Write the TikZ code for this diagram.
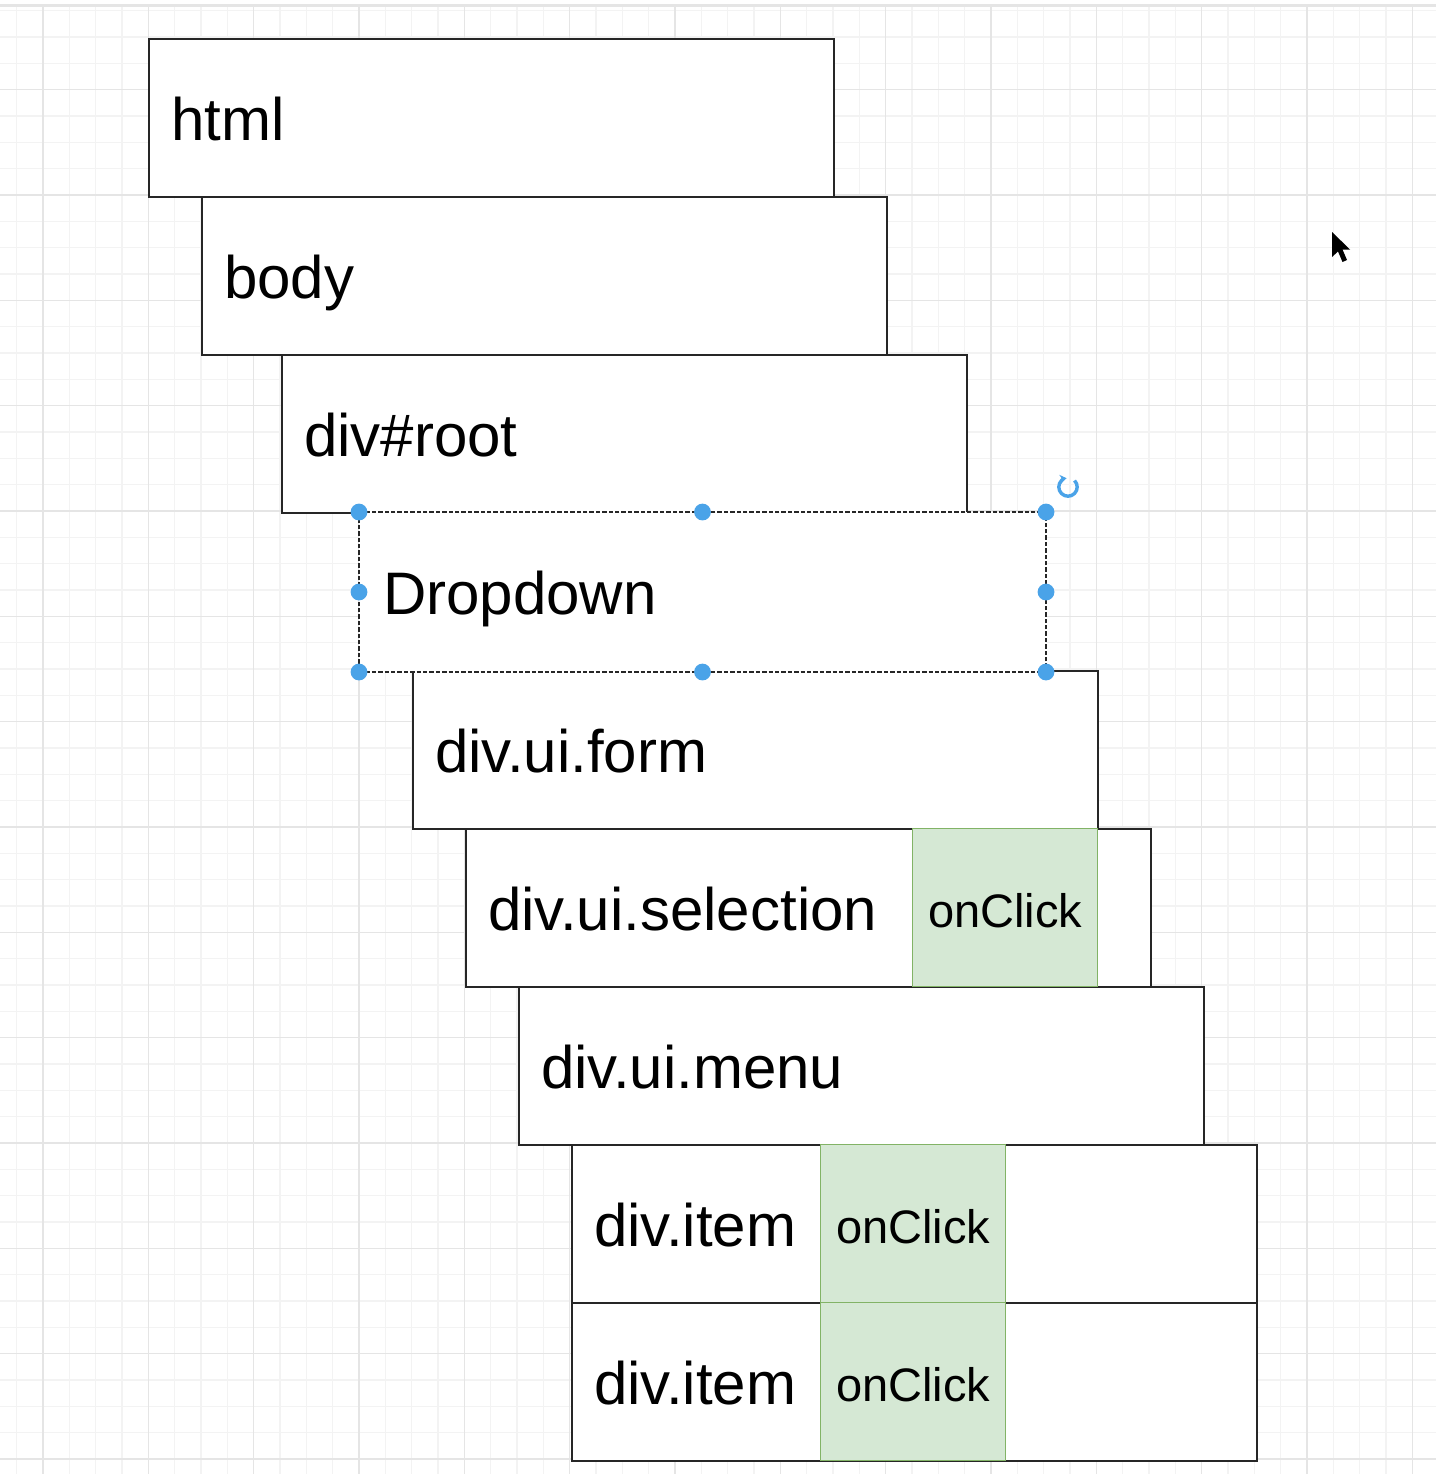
\documentclass[tikz,border=0pt]{standalone}
\usepackage{fontspec}
\setmainfont{Liberation Sans}
\usetikzlibrary{arrows.meta}
\definecolor{gridminor}{RGB}{243,243,243}
\definecolor{gridmajor}{RGB}{229,229,229}
\definecolor{boxline}{RGB}{38,38,38}
\definecolor{clickfill}{RGB}{213,232,212}
\definecolor{clickline}{RGB}{130,179,102}
\definecolor{gripblue}{RGB}{74,163,232}
\tikzstyle{box} = [rectangle, anchor=north west, draw=boxline, fill=white,
                   line width=1pt, minimum width=342.5pt, minimum height=79pt,
                   text width=320.5pt, align=left, inner xsep=11pt, inner ysep=0pt,
                   text height=22pt, text depth=0pt,
                   font=\fontsize{30}{36}\selectfont]
\tikzstyle{handler} = [rectangle, anchor=north west, draw=clickline, fill=clickfill,
                       line width=0.6pt, minimum width=92.5pt, minimum height=79pt,
                       inner sep=0pt, text height=20pt, text depth=0pt,
                       font=\fontsize{23.5}{28}\selectfont]
\tikzstyle{gridthin} = [gridminor, line width=0.6pt]
\tikzstyle{gridthick} = [gridmajor, line width=0.8pt]
\tikzstyle{grip} = [fill=gripblue]
\tikzstyle{selected} = [boxline, line width=1pt, dash pattern=on 2.2pt off 1pt]

\begin{document}
\begin{tikzpicture}[x=0.5pt, y=-0.5pt]
        \useasboundingbox (0,0) rectangle (1436,1474);
        \fill[white] (0,0) rectangle (1436,1474);

        %Grid
        \foreach \i in {0,...,53}
            \draw[gridthin] ({16.67+26.333*\i},6) -- ({16.67+26.333*\i},1474);
        \foreach \j in {0,...,55}
            \draw[gridthin] (0,{10.67+26.333*\j}) -- (1436,{10.67+26.333*\j});
        \foreach \i in {0,...,13}
            \draw[gridthick] ({43+105.33*\i},6) -- ({43+105.33*\i},1474);
        \foreach \j in {0,...,13}
            \draw[gridthick] (0,{89.67+105.33*\j}) -- (1436,{89.67+105.33*\j});
        \draw[gridmajor, line width=1.5pt] (0,5) -- (1436,5);

        %DOM boxes
        \node (html) [box] at (148,38) {html};
        \node (body) [box] at (201,196) {body};
        \node (root) [box] at (281,354) {div\#root};
        \node (form) [box] at (412,670) {div.ui.form};
        \node (selection) [box] at (465,828) {div.ui.selection};
        \node (menu) [box] at (518,986) {div.ui.menu};
        \node (itemA) [box] at (571,1144) {div.item};
        \node (itemB) [box] at (571,1302) {div.item};

        %Selected component
        \node (dropdown) [box, draw=white] at (359,512) {\kern0.5pt Dropdown};
        \draw[selected] (dropdown.north west) rectangle (dropdown.south east);

        %Event handlers
        \node (selclick) [handler] at (912,828) {onClick};
        \node (clickA) [handler] at (820,1144) {onClick};
        \node (clickB) [handler] at (820,1302) {onClick};

        %Selection handles
        \foreach \p in {north west, north, north east, west, east, south west, south, south east}
            \fill[grip] (dropdown.\p) circle (4.2pt);
        \begin{scope}[shift={(1068,487)}, x=1pt, y=1pt]
            \draw[gripblue, line width=1.7pt, -{Stealth[length=3pt, width=4.5pt]}]
                (45:4.6) arc[start angle=45, end angle=-258, radius=4.6];
        \end{scope}

        %Mouse pointer
        \fill[black] (1332,232) -- (1332,257) -- (1338,251.5) -- (1342.5,262)
            -- (1347,260) -- (1342.5,249.5) -- (1350,249.5) -- cycle;
\end{tikzpicture}
\end{document}
